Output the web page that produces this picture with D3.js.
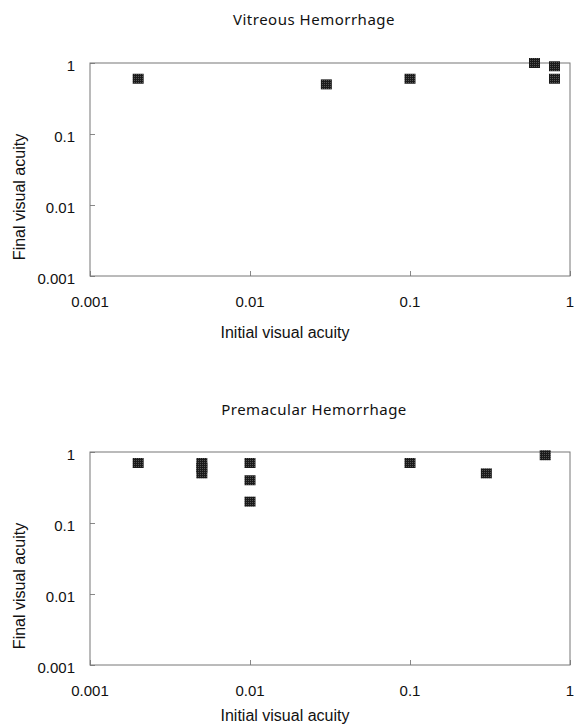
<!DOCTYPE html>
<html>
<head>
<meta charset="utf-8">
<script src="https://cdn.jsdelivr.net/npm/d3@7"></script>
<style>
  body { margin: 0; background: #fff; }
  text { fill: #111; }
</style>
</head>
<body>
<div id="svg-container"></div>
<script>
let w = 576;
let h = 727;

// tick values / labels shared by both axes
let tickValues = [0.001, 0.01, 0.1, 1];
let tickLabels = ['0.001', '0.01', '0.1', '1'];

// Vitreous Hemorrhage
let vhInitial = [0.002, 0.03, 0.1, 0.6, 0.8, 0.8];
let vhFinal = [0.6, 0.5, 0.6, 1.0, 0.9, 0.6];

// Premacular Hemorrhage
let pmhInitial = [0.002, 0.005, 0.005, 0.005, 0.01, 0.01, 0.01, 0.1, 0.3, 0.7];
let pmhFinal = [0.7, 0.7, 0.6, 0.5, 0.7, 0.4, 0.2, 0.7, 0.5, 0.9];

let panels = [
  {title: 'Vitreous Hemorrhage', xs: vhInitial, ys: vhFinal, top: 63, titleY: 20, xTitleOff: 56},
  {title: 'Premacular Hemorrhage', xs: pmhInitial, ys: pmhFinal, top: 452, titleY: 410, xTitleOff: 50}
];

let left = 90, right = 570, plotH = 213;

let svg = d3.select('#svg-container').
append('svg').
attr('width', w).
attr('height', h);

let defs = svg.append('defs');
let pat = defs.append('pattern').
attr('id', 'dither').
attr('width', 2).attr('height', 2).
attr('patternUnits', 'userSpaceOnUse');
pat.append('rect').attr('width', 2).attr('height', 2).attr('fill', '#1a1a1a');
pat.append('rect').attr('width', 1).attr('height', 1).attr('fill', '#555');

let x = d3.scaleLog().domain([0.001, 1]).range([left, right]);

panels.forEach(p => {
  let y = d3.scaleLog().domain([0.001, 1]).range([p.top + plotH, p.top]);
  let g = svg.append('g');

  g.append('text').
  attr('x', 314).
  attr('y', p.titleY).
  attr('dy', '0.35em').
  attr('text-anchor', 'middle').
  style('font-family', '"Noto Sans", sans-serif').
  style('font-size', '15px').
  style('letter-spacing', '0.5px').
  text(p.title);

  // ticks inside the box
  g.append('g').
  attr('transform', 'translate(0,' + (p.top + plotH) + ')').
  call(d3.axisTop(x).tickValues(tickValues).tickSize(5).tickFormat('')).
  call(a => a.select('.domain').remove()).
  call(a => a.selectAll('line').attr('stroke', '#888'));

  g.append('g').
  attr('transform', 'translate(' + left + ',0)').
  call(d3.axisRight(y).tickValues(tickValues).tickSize(5).tickFormat('')).
  call(a => a.select('.domain').remove()).
  call(a => a.selectAll('line').attr('stroke', '#888'));

  g.append('rect').
  attr('x', left).
  attr('y', p.top).
  attr('width', right - left).
  attr('height', plotH).
  attr('fill', 'none').
  attr('stroke', '#777').
  attr('stroke-width', 1);

  g.selectAll('.xl').
  data(tickValues).
  join('text').
  attr('class', 'xl').
  attr('x', d => x(d)).
  attr('y', p.top + plotH + 26).
  attr('dy', '0.35em').
  attr('text-anchor', 'middle').
  style('font-family', '"Liberation Sans", Arial, sans-serif').
  style('font-size', '15px').
  text((d, i) => tickLabels[i]);

  g.selectAll('.yl').
  data(tickValues).
  join('text').
  attr('class', 'yl').
  attr('x', 75).
  attr('y', d => y(d) + 2.5).
  attr('dy', '0.35em').
  attr('text-anchor', 'end').
  style('font-family', '"Liberation Sans", Arial, sans-serif').
  style('font-size', '15px').
  text((d, i) => tickLabels[i]);

  g.append('text').
  attr('transform', 'translate(19,' + (p.top + 134) + ') rotate(-90)').
  attr('dy', '0.35em').
  attr('text-anchor', 'middle').
  style('font-family', '"Liberation Sans", Arial, sans-serif').
  style('font-size', '16px').
  text('Final visual acuity');

  g.append('text').
  attr('x', 285).
  attr('y', p.top + plotH + p.xTitleOff).
  attr('dy', '0.35em').
  attr('text-anchor', 'middle').
  style('font-family', '"Liberation Sans", Arial, sans-serif').
  style('font-size', '16px').
  text('Initial visual acuity');

  g.selectAll('.pt').
  data(p.xs).
  join('rect').
  attr('class', 'pt').
  attr('x', d => x(d) - 5.5).
  attr('y', (d, i) => y(p.ys[i]) - 5).
  attr('width', 11).
  attr('height', 10).
  attr('fill', 'url(#dither)');
});
</script>
</body>
</html>
